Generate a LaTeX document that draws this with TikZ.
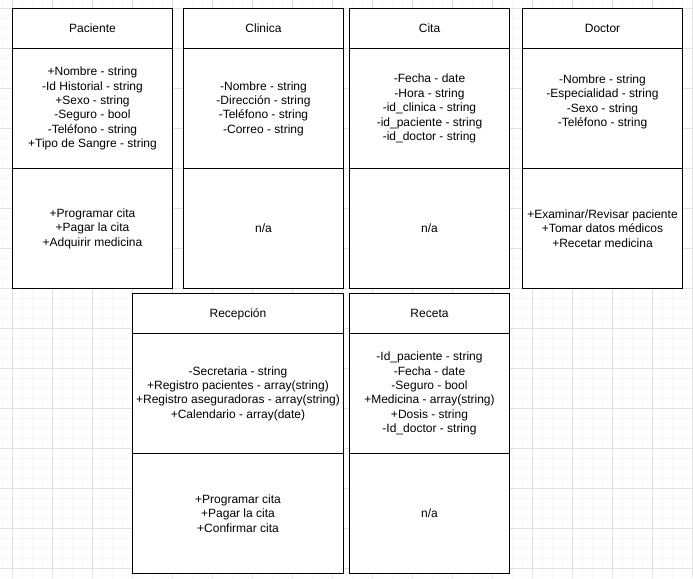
\documentclass[tikz,border=0pt]{standalone}
\usepackage{fontspec}
\setmainfont{Liberation Sans}
\definecolor{gridmajor}{HTML}{E2E2E2}
\definecolor{gridminor}{HTML}{F7F7F7}
\tikzset{
  cls/.style={draw=black, line width=1pt, fill=white, align=center, inner sep=0pt, outer sep=0pt,
    font=\fontsize{12}{14.4}\selectfont},
  clshead/.style={cls, text height=9.5pt, text depth=2pt},
}
\newcommand{\umlbox}[7]{%
  \node[clshead, anchor=north west, minimum width=#4pt, minimum height=40pt] (#1-h) at (#2,#3) {#5};
  \node[cls, anchor=north, minimum width=#4pt, minimum height=120pt] (#1-a) at (#1-h.south) {#6};
  \node[cls, anchor=north, minimum width=#4pt, minimum height=120pt] (#1-m) at (#1-a.south) {#7};
}
\begin{document}
\begin{tikzpicture}[x=1pt,y=-1pt]
\useasboundingbox (0,0) rectangle (693,578);
\fill[white] (0,0) rectangle (693,578);
% minor grid
\foreach \x in {2.5,12.5,...,692.5} {\draw[gridminor, line width=1pt] (\x,0) -- (\x,578);}
\foreach \y in {8.5,18.5,...,578} {\draw[gridminor, line width=1pt] (0,\y) -- (693,\y);}
% major grid
\foreach \x in {12.5,52.5,...,692.5} {\draw[gridmajor, line width=1pt] (\x,0) -- (\x,578);}
\foreach \y in {8.5,48.5,...,578} {\draw[gridmajor, line width=1pt] (0,\y) -- (693,\y);}

\umlbox{pac}{12.5}{8.5}{160}{Paciente}
  {+Nombre - string\\-Id Historial - string\\+Sexo - string\\-Seguro - bool\\-Teléfono - string\\+Tipo de Sangre - string}
  {+Programar cita\\+Pagar la cita\\+Adquirir medicina}
\umlbox{cli}{183.5}{8.5}{160}{Clinica}
  {-Nombre - string\\-Dirección - string\\-Teléfono - string\\-Correo - string}
  {n/a}
\umlbox{cit}{349.5}{8.5}{160}{Cita}
  {-Fecha - date\\-Hora - string\\-id\_clinica - string\\-id\_paciente - string\\-id\_doctor - string}
  {n/a}
\umlbox{doc}{522.5}{8.5}{160}{Doctor}
  {-Nombre - string\\-Especialidad - string\\-Sexo - string\\-Teléfono - string\\[-3pt]\strut}
  {+Examinar/Revisar paciente\\+Tomar datos médicos\\+Recetar medicina}
\umlbox{rec}{132.5}{293.5}{211}{Recepción}
  {-Secretaria - string\\+Registro pacientes - array(string)\\+Registro aseguradoras - array(string)\\+Calendario - array(date)}
  {+Programar cita\\+Pagar la cita\\+Confirmar cita}
\umlbox{ret}{349.5}{293.5}{160}{Receta}
  {-Id\_paciente - string\\-Fecha - date\\-Seguro - bool\\+Medicina - array(string)\\+Dosis - string\\-Id\_doctor - string}
  {n/a}
\end{tikzpicture}
\end{document}
